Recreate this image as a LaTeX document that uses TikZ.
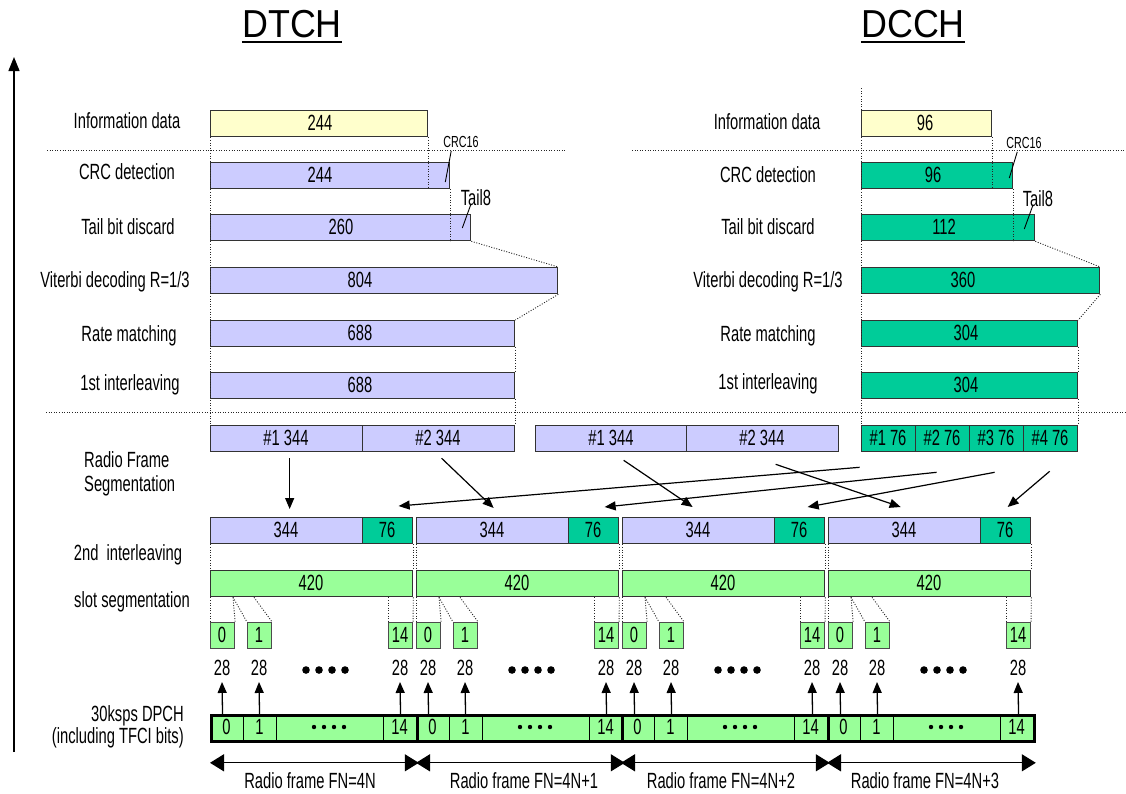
\documentclass[tikz,border=0pt]{standalone}
\usepackage{fontspec}
\setmainfont{Liberation Sans}[FakeStretch=0.67]
\newfontfamily\ttlfont{Liberation Sans}[FakeStretch=0.92]
\usetikzlibrary{arrows.meta,calc}
\definecolor{cyel}{HTML}{FFFFCC}
\definecolor{clav}{HTML}{CCCCFF}
\definecolor{cteal}{HTML}{00CC99}
\definecolor{cgrn}{HTML}{99FF99}
\newcommand\lf{\fontsize{22}{24}\selectfont}
\newcommand\smf{\fontsize{16}{18}\selectfont}
% name, x1, x2, ytop, options, text-x, text
\newcommand\bx[7]{%
  \node[bxs,#5,minimum width={(#3)-(#2)}] (#1) at (#2,#4) {};
  \node[txt] (#1t) at (#6,#4+13) {#7};}
\begin{document}
\begin{tikzpicture}[x=1pt,y=-1pt,
  bxs/.style={draw=black!80,line width=1.3pt,inner sep=0pt,minimum height=26pt,anchor=north west},
  sl/.style={draw=black!70,line width=1.1pt},
  txt/.style={font=\lf,inner sep=0pt,text height=15.5pt,text depth=0pt},
  small/.style={font=\smf,inner sep=0pt},
  dotl/.style={line width=0.9pt,dash pattern=on 1pt off 1.6pt,black!85},
  lead/.style={line width=0.9pt},
  arr/.style={line width=1.2pt,-{Triangle[length=11pt,width=9pt]}},
  uarr/.style={line width=1.3pt,-{Triangle[length=11pt,width=9pt]}},
  rarr/.style={line width=1.3pt,{Triangle[length=14pt,width=17pt]}-{Triangle[length=14pt,width=17pt]}},
  dps/.style={draw=black,line width=2.8pt,fill=cgrn,inner sep=0pt,minimum height=26pt,anchor=north west}]
\useasboundingbox (0,0) rectangle (1126,793);

% titles
\node[font=\ttlfont\fontsize{39}{40}\selectfont,inner sep=0pt,anchor=base] (tD) at (292,37) {DTCH};
\draw[line width=2.2pt] ([yshift=-5pt]tD.base west) -- ([yshift=-5pt]tD.base east);
\node[font=\ttlfont\fontsize{39}{40}\selectfont,inner sep=0pt,anchor=base] (tC) at (913,37) {DCCH};
\draw[line width=2.2pt] ([yshift=-5pt]tC.base west) -- ([yshift=-5pt]tC.base east);

% left axis arrow
\coordinate (ax0) at (14,752);
\coordinate (ax1) at (14,57);
\draw[line width=1.3pt,-{Triangle[length=14pt,width=11pt]}] (ax0) -- (ax1);

% horizontal dotted separators
\draw[dotl] (47,150) -- (566,150);
\draw[dotl] (632,150) -- (1126,150);
\draw[dotl] (46,412) -- (1126,412);

% ---------- DTCH ----------
\bx{dI}{210}{427}{110}{fill=cyel}{320}{244}
\bx{dC}{210}{449}{162}{fill=clav}{320}{244}
\bx{dT}{210}{470}{214}{fill=clav}{341}{260}
\bx{dV}{210}{557}{267}{fill=clav}{360}{804}
\bx{dR}{210}{514}{320}{fill=clav}{360}{688}
\bx{dL}{210}{514}{372}{fill=clav}{360}{688}

% ---------- DCCH ----------
\bx{cI}{861}{991}{110}{fill=cyel}{925}{96}
\bx{cC}{861}{1012}{162}{fill=cteal}{933}{96}
\bx{cT}{861}{1034}{214}{fill=cteal}{944}{112}
\bx{cV}{861}{1099}{267}{fill=cteal}{963}{360}
\bx{cR}{861}{1077}{320}{fill=cteal}{966}{304}
\bx{cL}{861}{1077}{372}{fill=cteal}{966}{304}

% segmentation row
\bx{a1}{210}{362}{425}{fill=clav}{286}{\#1 344}
\bx{a2}{362}{514}{425}{fill=clav}{438}{\#2 344}
\bx{b1}{535}{686}{425}{fill=clav}{611}{\#1 344}
\bx{b2}{686}{838}{425}{fill=clav}{762}{\#2 344}
\bx{c1}{861}{915}{425}{fill=cteal}{888}{\#1 76}
\bx{c2}{915}{969}{425}{fill=cteal}{942}{\#2 76}
\bx{c3}{969}{1023}{425}{fill=cteal}{996}{\#3 76}
\bx{c4}{1023}{1077}{425}{fill=cteal}{1050}{\#4 76}

% dotted guides DTCH
\draw[dotl] (dI.south west) -- (a1.north west);
\draw[dotl] (dI.south east) -- (dI.south east |- dC.south);
\draw[dotl] (dC.south east) -- (dC.south east |- dT.south);
\draw[dotl] (dT.south east) -- (dV.north east);
\draw[dotl] (dV.south east) -- (dR.north east);
\draw[dotl] (dR.south east) -- (dL.north east);
\draw[dotl] (dL.south east) -- (a2.north east);
% dotted guides DCCH
\draw[dotl] (cI.north west) -- ++(0,-22);
\draw[dotl] (cI.south west) -- (c1.north west);
\draw[dotl] (cI.south east) -- (cI.south east |- cC.south);
\draw[dotl] (cC.south east) -- (cC.south east |- cT.south);
\draw[dotl] (cT.south east) -- (cV.north east);
\draw[dotl] (cV.south east) -- (cR.north east);
\draw[dotl] (cR.south east) -- (cL.north east);
\draw[dotl] (cL.south east) -- (c4.north east);

% CRC16 / Tail8 labels
\node[small] (dcr) at (461,142) {CRC16};
\draw[lead] ($(dcr.south west)+(8,3)$) -- ($(dC.north east)+(-5,20)$);
\node[txt] (dtl) at (476,198) {Tail8};
\draw[lead] ($(dtl.south west)+(10,-1)$) -- ($(dT.north east)+(-9,14)$);
\node[small] (ccr) at (1024,143) {CRC16};
\draw[lead] ($(ccr.south west)+(11,3)$) -- ($(cC.north east)+(-4,16)$);
\node[txt] (ctl) at (1038,199) {Tail8};
\draw[lead] ($(ctl.south west)+(10,-1)$) -- ($(cT.north east)+(-11,15)$);

% row labels DTCH side
\node[txt] (l1) at (127,121) {Information data};
\node[txt] (l2) at (127,172) {CRC detection};
\node[txt] (l3) at (128,227) {Tail bit discard};
\node[txt] (l4) at (115,280) {Viterbi decoding R=1/3};
\node[txt] (l5) at (129,334) {Rate matching};
\node[txt] (l6) at (130,383) {1st interleaving};
% row labels DCCH side
\node[txt] (r1) at (767,122) {Information data};
\node[txt] (r2) at (768,175) {CRC detection};
\node[txt] (r3) at (768,227) {Tail bit discard};
\node[txt] (r4) at (768,280) {Viterbi decoding R=1/3};
\node[txt] (r5) at (768,334) {Rate matching};
\node[txt] (r6) at (768,382) {1st interleaving};

\node[font=\fontsize{22}{24}\selectfont,inner sep=0pt,align=left,anchor=west] (l7) at (84,474) {Radio Frame\\Segmentation};
\node[txt] (l8) at (128,553) {2nd\ \ interleaving};
\node[txt] (l9) at (132,600) {slot segmentation};
\node[font=\fontsize{22}{22}\selectfont,inner sep=0pt,align=right,anchor=east] (l10) at (184,727) {30ksps DPCH\\(including TFCI bits)};

% radio frames (2nd interleaving, 420, slots)
\foreach \i/\s in {1/210,2/416,3/622,4/828}{
  \bx{f\i a}{\s}{\s+152}{517}{fill=clav}{\s+76}{344}
  \bx{f\i b}{\s+152}{\s+202}{517}{fill=cteal}{\s+177}{76}
  \bx{g\i}{\s}{\s+202}{570}{fill=cgrn}{\s+101}{420}
  \draw[dotl] (f\i a.south west) -- (g\i.north west);
  \draw[dotl] (f\i b.south east) -- (g\i.north east);
  \bx{z\i a}{\s}{\s+24}{622}{fill=cgrn,sl}{\s+12}{0}
  \bx{z\i b}{\s+37}{\s+61}{622}{fill=cgrn,sl}{\s+49}{1}
  \bx{z\i c}{\s+178}{\s+202}{622}{fill=cgrn,sl}{\s+190}{14}
  \coordinate (g\i p) at ($(g\i.south west)+(23,0)$);
  \coordinate (g\i q) at ($(g\i.south west)+(44,0)$);
  \coordinate (g\i r) at ($(g\i.south west)+(178,0)$);
  \draw[dotl] (g\i.south west) -- (z\i a.north west);
  \draw[dotl] (g\i p) -- (z\i a.north east);
  \draw[dotl] (g\i p) -- (z\i b.north west);
  \draw[dotl] (g\i q) -- (z\i b.north east);
  \draw[dotl] (g\i r) -- (z\i c.north west);
  \draw[dotl] (g\i.south east) -- (z\i c.north east);
  \node[txt] (n\i a) at (\s+12,668) {28};
  \node[txt] (n\i b) at (\s+49,668) {28};
  \node[txt] (n\i c) at (\s+190,668) {28};
  \foreach \k in {0,1,2,3} \fill (\s+96+13*\k,670) circle (3.8pt);
}

% DPCH
\foreach \i/\t in {1/210,2/416,3/621,4/827}{
  \node[dps,minimum width=206pt] (dp\i) at (\t,714) {};
  \draw[line width=1pt] (\t+33,714) -- (\t+33,740);
  \draw[line width=1pt] (\t+66,714) -- (\t+66,740);
  \draw[line width=1pt] (\t+173,714) -- (\t+173,740);
  \node[txt] (dp\i a) at (\t+16.5,727) {0};
  \node[txt] (dp\i b) at (\t+49.5,727) {1};
  \node[txt] (dp\i c) at (\t+189.5,727) {14};
  \foreach \k in {0,1,2,3} \fill (\t+104+10*\k,727) circle (2.2pt);
}

% arrows slots -> 28
\foreach \i in {1,2,3,4}{
  \foreach \c in {a,b,c}{
    \draw[uarr] (z\i\c |- dp\i.north) -- ([yshift=-6pt]n\i\c.south);
  }
}

% radio frame arrows and labels
\foreach \i/\x/\l in {1/310/4N,2/524/4N+1,3/721/4N+2,4/925/4N+3}{
  \node[txt] (rf\i) at (\x,781) {Radio frame FN=\l};
  \draw[rarr] ([yshift=-20pt]dp\i.south west) -- ([yshift=-20pt]dp\i.south east);
}

% segmentation arrows
\draw[arr] ($(a1.south)+(3,6)$) -- ($(f1a.north)+(3,-8)$);
\draw[arr] ($(a2.south)+(3,6)$) -- ($(f2a.north)+(1,-9)$);
\draw[arr] ($(b1.south)+(12.5,8)$) -- ($(f3a.north)+(-6,-10)$);
\draw[arr] ($(b2.south)+(13,12)$) -- ($(f4a.north)+(-4,-10)$);
\draw[arr] ($(c1.south)+(-29,15)$) -- ($(f1b.north)+(11,-11)$);
\draw[arr] ($(c2.south)+(-6,20)$) -- ($(f2b.north)+(11,-10)$);
\draw[arr] ($(c3.south)+(-2,20)$) -- ($(f3b.north)+(8,-10)$);
\draw[arr] ($(c4.south)+(-1,19)$) -- ($(f4b.north)+(2,-10)$);
\end{tikzpicture}
\end{document}
